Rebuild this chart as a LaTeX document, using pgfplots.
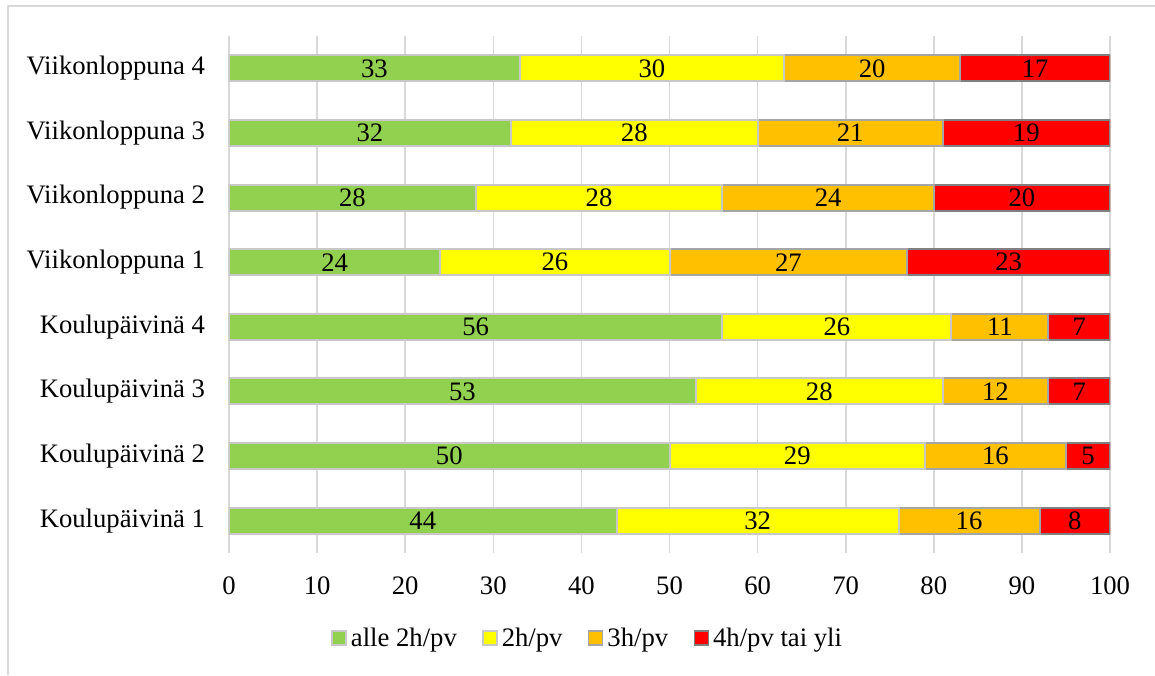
\documentclass[border=0pt]{standalone}
\usepackage{fontspec}
\setmainfont{Liberation Serif}
\usepackage{pgfplots}
\pgfplotsset{compat=1.18}
\usepackage{pgfplotstable}
\definecolor{cgreen}{HTML}{92D050}
\definecolor{cyellow}{HTML}{FFFF00}
\definecolor{corange}{HTML}{FFC000}
\definecolor{cred}{HTML}{FF0000}
\definecolor{blight}{HTML}{C8C8C8}
\definecolor{bmid}{HTML}{A5A5A5}
\definecolor{bdark}{HTML}{808080}
\definecolor{gridgray}{HTML}{D9D9D9}
\pgfplotstableread{
y a b c d
0 44 32 16 8
1 50 29 16 5
2 53 28 12 7
3 56 26 11 7
4 24 26 27 23
5 28 28 24 20
6 32 28 21 19
7 33 30 20 17
}\data
\newcommand{\chfont}{\fontsize{20}{24}\selectfont}
\begin{document}
\begin{tikzpicture}[font=\chfont]
\path[use as bounding box] (-171.75pt,-91.5pt) rectangle (694.5pt,414.75pt);
\draw[gridgray, line width=1.5pt] (-165.75pt,-91.5pt) -- (-165.75pt,410.25pt) -- (694.5pt,410.25pt);
\pgfplotsset{
  base/.style={
    scale only axis, width=660.75pt, height=387.75pt,
    xmin=0, xmax=100, ymin=-0.5, ymax=7.5,
    at={(0pt,0pt)}, anchor=south west,
  }
}
\begin{axis}[base,
  xbar stacked, bar width=19.5pt,
  axis line style={draw=none},
  tick style={draw=none},
  xmajorgrids, grid style={gridgray, line width=1.2pt},
  xtick={0,10,...,100},
  ytick={0,...,7},
  yticklabels={Koulupäivinä 1, Koulupäivinä 2, Koulupäivinä 3, Koulupäivinä 4, Viikonloppuna 1, Viikonloppuna 2, Viikonloppuna 3, Viikonloppuna 4},
  /pgf/number format/assume math mode=true,
  tick label style={font=\chfont},
  xticklabel style={yshift=-14.5pt},
  yticklabel style={xshift=-14.5pt},
  legend style={at={(0.4075,-0.164)}, anchor=center, draw=none, font=\chfont,
    legend columns=4, /tikz/every even column/.append style={column sep=17pt},
    /tikz/every odd column/.append style={column sep=1pt},
    inner sep=0pt},
  legend cell align=left,
  legend image code/.code={\draw[#1, line width=1.2pt] (0pt,-5.25pt) rectangle (10.5pt,5.25pt);},
]
\addplot[fill=cgreen, draw=blight, line width=1.5pt] table[x=a, y=y]{\data};
\addplot[fill=cyellow, draw=blight, line width=1.5pt] table[x=b, y=y]{\data};
\addplot[fill=corange, draw=bmid, line width=1.5pt] table[x=c, y=y]{\data};
\addplot[fill=cred, draw=bdark, line width=1.5pt] table[x=d, y=y]{\data};
\legend{alle 2h/pv, 2h/pv, 3h/pv, 4h/pv tai yli}
\end{axis}
\begin{axis}[base, hide axis,
  nodes near coords, point meta=explicit,
  nodes near coords style={anchor=center, font=\chfont, text=black},
  /pgf/number format/assume math mode=true,
]
\addplot[draw=none, mark=none] table[x expr=\thisrow{a}/2, y=y, meta=a]{\data};
\addplot[draw=none, mark=none] table[x expr=\thisrow{a}+\thisrow{b}/2, y=y, meta=b]{\data};
\addplot[draw=none, mark=none] table[x expr=\thisrow{a}+\thisrow{b}+\thisrow{c}/2, y=y, meta=c]{\data};
\addplot[draw=none, mark=none] table[x expr=\thisrow{a}+\thisrow{b}+\thisrow{c}+\thisrow{d}/2, y=y, meta=d]{\data};
\end{axis}
\end{tikzpicture}
\end{document}
